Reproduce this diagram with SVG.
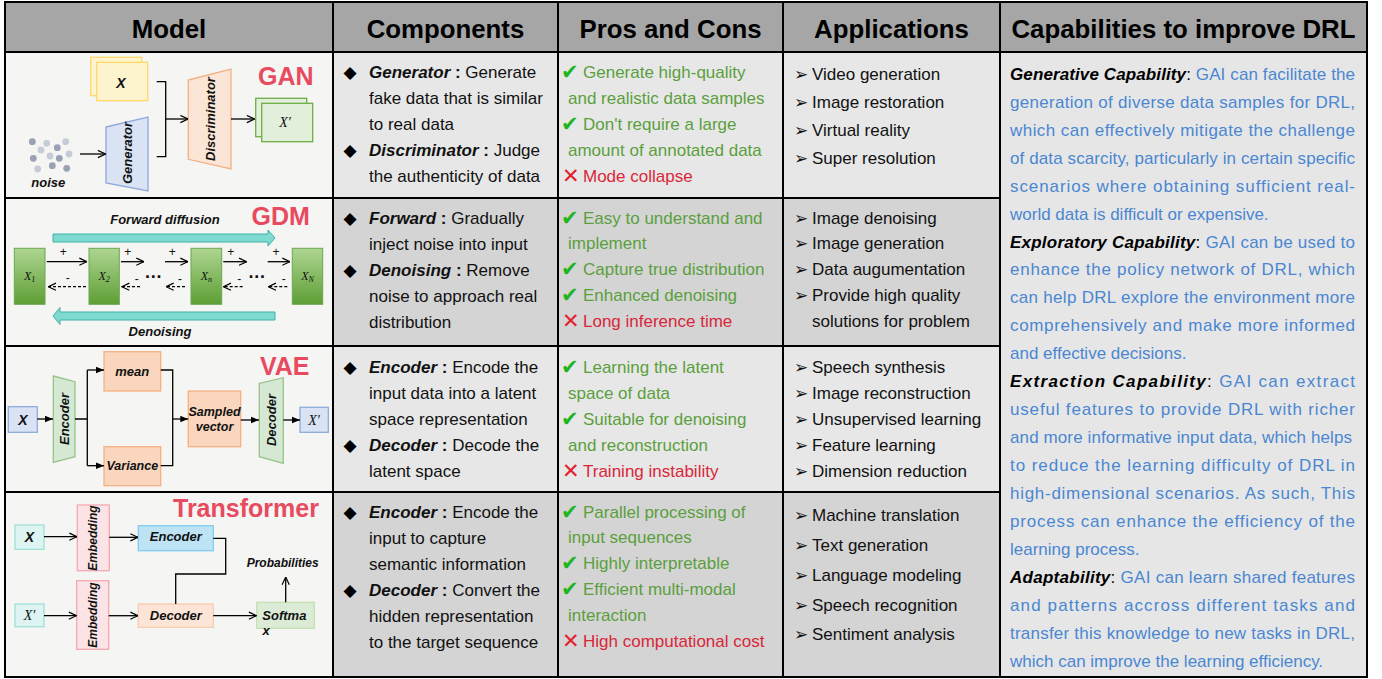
<svg xmlns="http://www.w3.org/2000/svg" width="1382" height="679" viewBox="0 0 1382 679">
<style>
.hd{font:bold 25.8px "Liberation Sans",Arial,sans-serif;fill:#000;text-anchor:middle}
.t{font-family:"Liberation Sans",Arial,sans-serif;font-size:17px;fill:#111}
.bi{font-weight:bold;font-style:italic}
.b{font-weight:bold}
.g{fill:#5b9f3e}
.r{fill:#d9263a}
.bl{fill:#4a86d2}
.k{fill:#000}
.dia{font-family:"DejaVu Sans",sans-serif;font-size:17px;fill:#000}
.chk{font-family:"DejaVu Sans",sans-serif;font-size:21px;fill:#1fb51f}
.crs{font-family:"DejaVu Sans",sans-serif;font-size:21px;fill:#e3202e}
.arw{font-family:"DejaVu Sans",sans-serif;font-size:17px;fill:#111}
.lab{font-family:"Liberation Sans",Arial,sans-serif;font-weight:bold;font-style:italic;font-size:13px;fill:#111;text-anchor:middle;dominant-baseline:central}
.ttl{font:bold 25px "Liberation Sans",Arial,sans-serif;fill:#e84a5f}
.ln{fill:none;stroke:#000;stroke-width:1.3}
.dash{fill:none;stroke:#000;stroke-width:1.3;stroke-dasharray:3 2}
.ser{font-family:"Liberation Serif","Times New Roman",serif;font-style:italic;font-size:14px;fill:#111;text-anchor:middle;dominant-baseline:central}
.grid{stroke:#000;stroke-width:2;fill:none}
</style>
<defs>
<marker id="oa" viewBox="0 0 10 10" refX="9.5" refY="5" markerWidth="9" markerHeight="9" markerUnits="userSpaceOnUse" orient="auto">
<path d="M1,1 L9.5,5 L1,9" fill="none" stroke="#000" stroke-width="1.3"/>
</marker>
<marker id="fa" viewBox="0 0 10 10" refX="10" refY="5" markerWidth="8" markerHeight="8" markerUnits="userSpaceOnUse" orient="auto">
<path d="M0,1 L10,5 L0,9 z" fill="#000"/>
</marker>
<linearGradient id="gg" x1="0" y1="0" x2="0" y2="1">
<stop offset="0" stop-color="#aed592"/>
<stop offset="1" stop-color="#5e9e34"/>
</linearGradient>
</defs>

<g id="table-bg">
<rect x="5" y="2" width="1362" height="50" fill="#a6a6a6"/>
<rect x="5" y="52" width="328" height="625" fill="#f5f5f3"/>
<rect x="333" y="52" width="667" height="146" fill="#e7e7e7"/>
<rect x="333" y="198" width="667" height="148" fill="#d4d4d4"/>
<rect x="333" y="346" width="667" height="146" fill="#e7e7e7"/>
<rect x="333" y="492" width="667" height="185" fill="#d4d4d4"/>
<rect x="1000" y="52" width="367" height="625" fill="#e6e6e6"/>
</g>

<g id="grid">
<rect class="grid" x="5" y="2" width="1362" height="675"/>
<line class="grid" x1="5" y1="52" x2="1367" y2="52"/>
<line class="grid" x1="5" y1="198" x2="1000" y2="198"/>
<line class="grid" x1="5" y1="346" x2="1000" y2="346"/>
<line class="grid" x1="5" y1="492" x2="1000" y2="492"/>
<line class="grid" x1="333" y1="2" x2="333" y2="677"/>
<line class="grid" x1="558" y1="2" x2="558" y2="677"/>
<line class="grid" x1="783" y1="2" x2="783" y2="677"/>
<line class="grid" x1="1000" y1="2" x2="1000" y2="677"/>
</g>

<g id="header">
<text class="hd" x="169" y="37.5">Model</text>
<text class="hd" x="445.5" y="37.5">Components</text>
<text class="hd" x="670.5" y="37.5">Pros and Cons</text>
<text class="hd" x="891.5" y="37.5">Applications</text>
<text class="hd" x="1183.5" y="37.5">Capabilities to improve DRL</text>
</g>

<g id="gan">
<text class="ttl" x="258" y="85">GAN</text>
<g id="gan-x">
<rect x="90.7" y="57.3" width="51" height="38.4" fill="#fdf3cf" stroke="#ffd966" stroke-width="1.3"/>
<rect x="96.7" y="62.3" width="51" height="38.4" fill="#fdf3cf" stroke="#ffd966" stroke-width="1.3"/>
<text class="lab" x="121" y="82.5" style="font-size:14px">X</text>
</g>
<g id="gan-noise">
<circle cx="32.3" cy="141.7" r="3.4" fill="#9aa1b5"/>
<circle cx="46.7" cy="143.3" r="3.4" fill="#c6cbd8"/>
<circle cx="57.3" cy="147.7" r="3.4" fill="#9aa1b5"/>
<circle cx="65.7" cy="141.7" r="3.4" fill="#c6cbd8"/>
<circle cx="41" cy="150" r="3.4" fill="#c6cbd8"/>
<circle cx="50" cy="156" r="3.4" fill="#c6cbd8"/>
<circle cx="59.3" cy="158.3" r="3.4" fill="#9aa1b5"/>
<circle cx="69" cy="154" r="3.4" fill="#c6cbd8"/>
<circle cx="33.3" cy="158.3" r="3.4" fill="#9aa1b5"/>
<circle cx="37.7" cy="169" r="3.4" fill="#c6cbd8"/>
<circle cx="52.3" cy="165.7" r="3.4" fill="#9aa1b5"/>
<circle cx="66.7" cy="168.3" r="3.4" fill="#9aa1b5"/>
<text class="lab" x="48.3" y="182">noise</text>
</g>
<g id="gan-generator">
<polygon points="106,127 148,117 148,191 106,183" fill="#dae3f3" stroke="#8faadc" stroke-width="1.3"/>
<text class="lab" transform="translate(127,153) rotate(-90)" x="0" y="0">Generator</text>
</g>
<g id="gan-discriminator">
<polygon points="188.3,80 231,69 231,169 188.3,159.3" fill="#fbe5d6" stroke="#f4b183" stroke-width="1.3"/>
<text class="lab" transform="translate(210,119) rotate(-90)" x="0" y="0">Discriminator</text>
</g>
<g id="gan-xp">
<rect x="255.7" y="98.3" width="51" height="38.4" fill="#e2efda" stroke="#70ad47" stroke-width="1.3"/>
<rect x="261.7" y="103.3" width="51" height="38.4" fill="#e2efda" stroke="#70ad47" stroke-width="1.3"/>
<text class="ser" x="285" y="122.5">X′</text>
</g>
</g>

<g id="gdm">
<text class="ttl" x="251.5" y="225">GDM</text>
<text class="lab" x="165" y="219">Forward diffusion</text>
<text class="lab" x="160" y="331.5">Denoising</text>
<polygon id="gdm-fwd-band" points="53,234 268,234 268,230 275,238 268,246 268,242 53,242" fill="#7fdbd1" stroke="#3fb0a6" stroke-width="1"/>
<polygon id="gdm-den-band" points="275,312 60,312 60,307.5 53,316 60,324.5 60,320 275,320" fill="#7fdbd1" stroke="#3fb0a6" stroke-width="1"/>
<g id="gdm-x1"><rect x="14.3" y="248.3" width="30.7" height="56" fill="url(#gg)" stroke="#6aa84f" stroke-width="1"/>
<text class="ser" x="29.6" y="276" style="font-size:12px">X<tspan font-size="8" dy="3">1</tspan></text></g>
<g id="gdm-x2"><rect x="89" y="248.3" width="30.3" height="56" fill="url(#gg)" stroke="#6aa84f" stroke-width="1"/>
<text class="ser" x="104.2" y="276" style="font-size:12px">X<tspan font-size="8" dy="3">2</tspan></text></g>
<g id="gdm-xn"><rect x="191" y="248.3" width="30.7" height="56" fill="url(#gg)" stroke="#6aa84f" stroke-width="1"/>
<text class="ser" x="206.3" y="276" style="font-size:12px">X<tspan font-size="8" dy="3">n</tspan></text></g>
<g id="gdm-xN"><rect x="292.3" y="248.3" width="30.4" height="56" fill="url(#gg)" stroke="#6aa84f" stroke-width="1"/>
<text class="ser" x="307.5" y="276" style="font-size:12px">X<tspan font-size="8" dy="3">N</tspan></text></g>
<g font-family="Liberation Sans,Arial,sans-serif" font-size="12" fill="#111" text-anchor="middle">
<text x="63.3" y="256">+</text><text x="127.7" y="256">+</text><text x="172.3" y="256">+</text><text x="230.7" y="256">+</text><text x="276" y="256">+</text>
<text x="67.7" y="282">-</text><text x="136.7" y="283">-</text><text x="180" y="283">-</text><text x="239.3" y="283">-</text><text x="283.7" y="283">-</text>
</g>
<text x="153.3" y="278" font-family="Liberation Sans,Arial,sans-serif" font-size="18" font-weight="bold" fill="#111" text-anchor="middle">…</text>
<text x="256.7" y="278" font-family="Liberation Sans,Arial,sans-serif" font-size="18" font-weight="bold" fill="#111" text-anchor="middle">…</text>
</g>

<g id="vae">
<text class="ttl" x="260" y="375">VAE</text>
<g id="vae-x"><rect x="8.3" y="406.7" width="29" height="25.6" fill="#dae3f3" stroke="#8faadc" stroke-width="1.3"/>
<text class="lab" x="22.8" y="419.5" style="font-size:14px">X</text></g>
<g id="vae-encoder"><polygon points="53.3,376 75,381.7 75,456.7 53.3,462.3" fill="#d5e8d4" stroke="#97c488" stroke-width="1.3"/>
<text class="lab" transform="translate(64,419) rotate(-90)" x="0" y="0">Encoder</text></g>
<g id="vae-mean"><rect x="104" y="351.7" width="56.7" height="39.3" fill="#f9d6bd" stroke="#f4b183" stroke-width="1.3"/>
<text class="lab" x="132.3" y="371">mean</text></g>
<g id="vae-variance"><rect x="104" y="446.7" width="56.7" height="39" fill="#f9d6bd" stroke="#f4b183" stroke-width="1.3"/>
<text class="lab" x="132.3" y="466" style="font-size:12.5px">Variance</text></g>
<g id="vae-sampled"><rect x="188.3" y="391" width="52.4" height="55.7" fill="#f9d6bd" stroke="#f4b183" stroke-width="1.3"/>
<text class="lab" x="214.5" y="411.5" style="font-size:12.5px">Sampled</text>
<text class="lab" x="214.5" y="426.7" style="font-size:12.5px">vector</text></g>
<g id="vae-decoder"><polygon points="259.3,383.3 283.3,377.7 283.3,463.3 259.3,456.7" fill="#d5e8d4" stroke="#97c488" stroke-width="1.3"/>
<text class="lab" transform="translate(271.3,420) rotate(-90)" x="0" y="0">Decoder</text></g>
<g id="vae-xp"><rect x="300" y="407.3" width="28.3" height="25" fill="#dae3f3" stroke="#8faadc" stroke-width="1.3"/>
<text class="ser" x="314" y="420">X′</text></g>
</g>

<g id="transformer">
<text class="ttl" x="173" y="516.5">Transformer</text>
<g id="tr-x"><rect x="15" y="525" width="29" height="24.3" fill="#ddf4f2" stroke="#9ee0d9" stroke-width="1.3"/>
<text class="lab" x="29.5" y="537" style="font-size:14px">X</text></g>
<g id="tr-emb1"><rect x="77.3" y="505" width="32" height="65.7" fill="#fce4e6" stroke="#f4a8b1" stroke-width="1.3"/>
<text class="lab" transform="translate(93.3,538) rotate(-90)" x="0" y="0" style="font-size:12px">Embedding</text></g>
<g id="tr-encoder"><rect x="138.3" y="525.7" width="75" height="25" fill="#bde3f5" stroke="#7fcdee" stroke-width="1.3"/>
<text class="lab" x="175.8" y="536.5">Encoder</text></g>
<g id="tr-xp"><rect x="15" y="604" width="29" height="22.7" fill="#ddf4f2" stroke="#9ee0d9" stroke-width="1.3"/>
<text class="ser" x="29.5" y="615.5">X′</text></g>
<g id="tr-emb2"><rect x="76.7" y="580.7" width="32" height="68.6" fill="#fce4e6" stroke="#f4a8b1" stroke-width="1.3"/>
<text class="lab" transform="translate(92.7,615) rotate(-90)" x="0" y="0" style="font-size:12px">Embedding</text></g>
<g id="tr-decoder"><rect x="138.3" y="604" width="75" height="23.3" fill="#fce5d6" stroke="#f8cbad" stroke-width="1.3"/>
<text class="lab" x="175.8" y="615.5">Decoder</text></g>
<g id="tr-softmax"><rect x="256.7" y="602.3" width="57.6" height="26" fill="#dcebd5" stroke="#c5e0b4" stroke-width="1.3"/>
<text class="lab" x="262.3" y="615" style="text-anchor:start">Softma</text>
<text class="lab" x="262.5" y="630.5" style="text-anchor:start">x</text></g>
<g id="tr-prob"><text class="lab" x="282.7" y="562.7" style="font-size:12px">Probabilities</text></g>
</g>

<g id="connectors">
<line class="ln" x1="80" y1="154" x2="105.5" y2="154" marker-end="url(#oa)"/>
<path class="ln" d="M156.7,81.7 H165.7 V156.7 H156.7"/>
<line class="ln" x1="165.7" y1="119" x2="188" y2="119" marker-end="url(#oa)"/>
<line class="ln" x1="231" y1="119" x2="254.5" y2="119" marker-end="url(#oa)"/>

<line class="ln" x1="46.7" y1="261.7" x2="87" y2="261.7" marker-end="url(#oa)"/>
<line class="ln" x1="121" y1="261.7" x2="144" y2="261.7" marker-end="url(#oa)"/>
<line class="ln" x1="165" y1="261.7" x2="188" y2="261.7" marker-end="url(#oa)"/>
<line class="ln" x1="223.3" y1="261.7" x2="246.7" y2="261.7" marker-end="url(#oa)"/>
<line class="ln" x1="267.7" y1="261.7" x2="290" y2="261.7" marker-end="url(#oa)"/>
<line class="dash" x1="86" y1="286.7" x2="48.3" y2="286.7" marker-end="url(#oa)"/>
<line class="dash" x1="140" y1="286.7" x2="121.7" y2="286.7" marker-end="url(#oa)"/>
<line class="dash" x1="185" y1="286.7" x2="166" y2="286.7" marker-end="url(#oa)"/>
<line class="dash" x1="242.7" y1="286.7" x2="223.3" y2="286.7" marker-end="url(#oa)"/>
<line class="dash" x1="287.3" y1="286.7" x2="268.3" y2="286.7" marker-end="url(#oa)"/>

<line class="ln" x1="37.3" y1="419" x2="53" y2="419" marker-end="url(#fa)"/>
<path class="ln" d="M75,419 H87.3 M87.3,370 V465.7"/>
<line class="ln" x1="87.3" y1="370" x2="104" y2="370" marker-end="url(#fa)"/>
<line class="ln" x1="87.3" y1="465.7" x2="104" y2="465.7" marker-end="url(#fa)"/>
<path class="ln" d="M160.7,370 H172.7 V465.7 H160.7"/>
<line class="ln" x1="172.7" y1="419" x2="188.3" y2="419" marker-end="url(#fa)"/>
<line class="ln" x1="240.7" y1="420" x2="259" y2="420" marker-end="url(#fa)"/>
<line class="ln" x1="283.3" y1="420" x2="300" y2="420" marker-end="url(#fa)"/>

<line class="ln" x1="44" y1="536.7" x2="77" y2="536.7" marker-end="url(#oa)"/>
<line class="ln" x1="109.3" y1="537.3" x2="138" y2="537.3" marker-end="url(#oa)"/>
<path class="ln" d="M213.3,538.3 H225.7 V574 H175.7 V604"/>
<line class="ln" x1="44" y1="615.7" x2="76.5" y2="615.7" marker-end="url(#oa)"/>
<line class="ln" x1="108.7" y1="615.7" x2="138" y2="615.7" marker-end="url(#oa)"/>
<line class="ln" x1="213.3" y1="615.7" x2="256.5" y2="615.7" marker-end="url(#oa)"/>
<line class="ln" x1="285.7" y1="602.3" x2="285.7" y2="577" marker-end="url(#oa)"/>
</g>

<g id="components" class="t">
<text class="dia" x="343.5" y="78">◆</text>
<text x="369" y="78"><tspan class="bi">Generator</tspan><tspan class="b"> :</tspan> Generate</text>
<text x="369" y="104">fake data that is similar</text>
<text x="369" y="130">to real data</text>
<text class="dia" x="343.5" y="156">◆</text>
<text x="369" y="156"><tspan class="bi">Discriminator</tspan><tspan class="b"> :</tspan> Judge</text>
<text x="369" y="182">the authenticity of data</text>

<text class="dia" x="343.5" y="224">◆</text>
<text x="369" y="224"><tspan class="bi">Forward</tspan><tspan class="b"> :</tspan> Gradually</text>
<text x="369" y="250">inject noise into input</text>
<text class="dia" x="343.5" y="276">◆</text>
<text x="369" y="276"><tspan class="bi">Denoising</tspan><tspan class="b"> :</tspan> Remove</text>
<text x="369" y="302">noise to approach real</text>
<text x="369" y="328">distribution</text>

<text class="dia" x="343.5" y="373">◆</text>
<text x="369" y="373"><tspan class="bi">Encoder</tspan><tspan class="b"> :</tspan> Encode the</text>
<text x="369" y="399">input data into a latent</text>
<text x="369" y="425">space representation</text>
<text class="dia" x="343.5" y="451">◆</text>
<text x="369" y="451"><tspan class="bi">Decoder</tspan><tspan class="b"> :</tspan> Decode the</text>
<text x="369" y="477">latent space</text>

<text class="dia" x="343.5" y="518">◆</text>
<text x="369" y="518"><tspan class="bi">Encoder</tspan><tspan class="b"> :</tspan> Encode the</text>
<text x="369" y="544">input to capture</text>
<text x="369" y="570">semantic information</text>
<text class="dia" x="343.5" y="596">◆</text>
<text x="369" y="596"><tspan class="bi">Decoder</tspan><tspan class="b"> :</tspan> Convert the</text>
<text x="369" y="622">hidden representation</text>
<text x="369" y="648">to the target sequence</text>
</g>

<g id="pros" class="t">
<text class="chk" x="561" y="79">✔</text><text class="g" x="583" y="78">Generate high-quality</text>
<text class="g" x="568" y="104">and realistic data samples</text>
<text class="chk" x="561" y="131">✔</text><text class="g" x="583" y="130">Don't require a large</text>
<text class="g" x="568" y="156">amount of annotated data</text>
<text class="crs" x="562" y="183">✕</text><text class="r" x="583" y="182">Mode collapse</text>

<text class="chk" x="561" y="225">✔</text><text class="g" x="583" y="224">Easy to understand and</text>
<text class="g" x="568" y="249">implement</text>
<text class="chk" x="561" y="276">✔</text><text class="g" x="583" y="275">Capture true distribution</text>
<text class="chk" x="561" y="302">✔</text><text class="g" x="583" y="301">Enhanced denoising</text>
<text class="crs" x="562" y="328">✕</text><text class="r" x="583" y="327">Long inference time</text>

<text class="chk" x="561" y="374">✔</text><text class="g" x="583" y="373">Learning the latent</text>
<text class="g" x="568" y="399">space of data</text>
<text class="chk" x="561" y="426">✔</text><text class="g" x="583" y="425">Suitable for denoising</text>
<text class="g" x="568" y="451">and reconstruction</text>
<text class="crs" x="562" y="478">✕</text><text class="r" x="583" y="477">Training instability</text>

<text class="chk" x="561" y="519">✔</text><text class="g" x="583" y="518">Parallel processing of</text>
<text class="g" x="568" y="543">input sequences</text>
<text class="chk" x="561" y="570">✔</text><text class="g" x="583" y="569">Highly interpretable</text>
<text class="chk" x="561" y="596">✔</text><text class="g" x="583" y="595">Efficient multi-modal</text>
<text class="g" x="568" y="621">interaction</text>
<text class="crs" x="562" y="648">✕</text><text class="r" x="583" y="647">High computational cost</text>
</g>

<g id="applications" class="t">
<text class="arw" x="794" y="80">➢</text><text x="812" y="80">Video generation</text>
<text class="arw" x="794" y="108">➢</text><text x="812" y="108">Image restoration</text>
<text class="arw" x="794" y="136">➢</text><text x="812" y="136">Virtual reality</text>
<text class="arw" x="794" y="164">➢</text><text x="812" y="164">Super resolution</text>

<text class="arw" x="794" y="224">➢</text><text x="812" y="224">Image denoising</text>
<text class="arw" x="794" y="249">➢</text><text x="812" y="249">Image generation</text>
<text class="arw" x="794" y="275">➢</text><text x="812" y="275">Data augumentation</text>
<text class="arw" x="794" y="301">➢</text><text x="812" y="301">Provide high quality</text>
<text x="812" y="327">solutions for problem</text>

<text class="arw" x="794" y="373">➢</text><text x="812" y="373">Speech synthesis</text>
<text class="arw" x="794" y="399">➢</text><text x="812" y="399">Image reconstruction</text>
<text class="arw" x="794" y="425">➢</text><text x="812" y="425">Unsupervised learning</text>
<text class="arw" x="794" y="451">➢</text><text x="812" y="451">Feature learning</text>
<text class="arw" x="794" y="477">➢</text><text x="812" y="477">Dimension reduction</text>

<text class="arw" x="794" y="521">➢</text><text x="812" y="521">Machine translation</text>
<text class="arw" x="794" y="551">➢</text><text x="812" y="551">Text generation</text>
<text class="arw" x="794" y="581">➢</text><text x="812" y="581">Language modeling</text>
<text class="arw" x="794" y="611">➢</text><text x="812" y="611">Speech recognition</text>
<text class="arw" x="794" y="640">➢</text><text x="812" y="640">Sentiment analysis</text>
</g>

<g id="capabilities" class="t">
<text x="1010" y="80" textLength="345" lengthAdjust="spacing"><tspan class="bi k">Generative Capability</tspan><tspan class="k">: </tspan><tspan class="bl">GAI can facilitate the</tspan></text>
<text class="bl" x="1010" y="108" textLength="345" lengthAdjust="spacing">generation of diverse data samples for DRL,</text>
<text class="bl" x="1010" y="136" textLength="345" lengthAdjust="spacing">which can effectively mitigate the challenge</text>
<text class="bl" x="1010" y="164" textLength="345" lengthAdjust="spacing">of data scarcity, particularly in certain specific</text>
<text class="bl" x="1010" y="192" textLength="345" lengthAdjust="spacing">scenarios where obtaining sufficient real-</text>
<text class="bl" x="1010" y="220">world data is difficult or expensive.</text>
<text x="1010" y="248" textLength="345" lengthAdjust="spacing"><tspan class="bi k">Exploratory Capability</tspan><tspan class="k">: </tspan><tspan class="bl">GAI can be used to</tspan></text>
<text class="bl" x="1010" y="275" textLength="345" lengthAdjust="spacing">enhance the policy network of DRL, which</text>
<text class="bl" x="1010" y="303" textLength="345" lengthAdjust="spacing">can help DRL explore the environment more</text>
<text class="bl" x="1010" y="331" textLength="345" lengthAdjust="spacing">comprehensively and make more informed</text>
<text class="bl" x="1010" y="359">and effective decisions.</text>
<text x="1010" y="387" textLength="345" lengthAdjust="spacing"><tspan class="bi k">Extraction Capability</tspan><tspan class="k">: </tspan><tspan class="bl">GAI can extract</tspan></text>
<text class="bl" x="1010" y="415" textLength="345" lengthAdjust="spacing">useful features to provide DRL with richer</text>
<text class="bl" x="1010" y="443" textLength="342" lengthAdjust="spacing">and more informative input data, which helps</text>
<text class="bl" x="1010" y="471" textLength="345" lengthAdjust="spacing">to reduce the learning difficulty of DRL in</text>
<text class="bl" x="1010" y="499" textLength="345" lengthAdjust="spacing">high-dimensional scenarios. As such, This</text>
<text class="bl" x="1010" y="527" textLength="345" lengthAdjust="spacing">process can enhance the efficiency of the</text>
<text class="bl" x="1010" y="555">learning process.</text>
<text x="1010" y="583" textLength="345" lengthAdjust="spacing"><tspan class="bi k">Adaptability</tspan><tspan class="k">: </tspan><tspan class="bl">GAI can learn shared features</tspan></text>
<text class="bl" x="1010" y="611" textLength="345" lengthAdjust="spacing">and patterns accross different tasks and</text>
<text class="bl" x="1010" y="639" textLength="345" lengthAdjust="spacing">transfer this knowledge to new tasks in DRL,</text>
<text class="bl" x="1010" y="667">which can improve the learning efficiency.</text>
</g>
</svg>
